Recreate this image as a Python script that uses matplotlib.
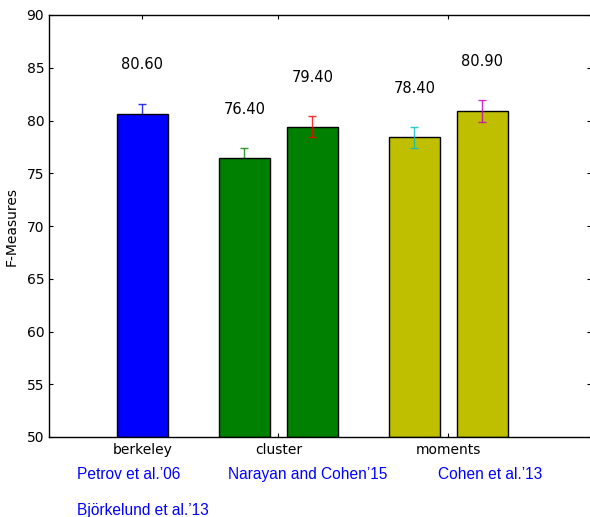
import matplotlib
matplotlib.use("Agg")
import matplotlib.pyplot as plt

categories = ["berkeley", "cluster", "moments"]
bar_groups = [0, 1, 1, 2, 2]
values = [80.60, 76.40, 79.40, 78.40, 80.90]
errors = [1.0, 1.0, 1.0, 1.0, 1.0]
bar_colors = ["#0000ff", "#008000", "#008000", "#bfbf00", "#bfbf00"]
err_colors = ["#0000ff", "#008000", "#ff0000", "#00bfbf", "#bf00bf"]
citations = ["Petrov et al.\u201906", "Narayan and Cohen\u201915", "Cohen et al.\u201913", "Bj\u00f6rkelund et al.\u201913"]
yticks = [50, 55, 60, 65, 70, 75, 80, 85, 90]

group_centers = [0.55, 1.35, 2.35]
offsets = [0.0, -0.2, 0.2, -0.2, 0.2]
width = 0.3

fig = plt.figure(figsize=(5.90, 5.17), dpi=100)
ax = fig.add_axes([49/590, 80/517, 542/590, 422/517])

xs = [group_centers[g] + o for g, o in zip(bar_groups, offsets)]
ax.bar(xs, [v - 50 for v in values], width=width, bottom=50, color=bar_colors,
       edgecolor="black", linewidth=1, zorder=2)
for i, (x, v, e) in enumerate(zip(xs, values, errors)):
    z = 1 if i < 2 else 3
    ax.errorbar(x, v, yerr=e, fmt="none", ecolor=err_colors[i], elinewidth=1,
                capsize=3, capthick=1, alpha=0.8, zorder=z)
    ax.text(x, v + 4.25, f"{v:.2f}", ha="center", va="baseline", fontsize=10.5, color="black")

ax.set_xlim(0, 542/170)
ax.set_ylim(50, 90)
ax.set_yticks(yticks)
ax.set_xticks(group_centers)
ax.set_xticklabels(categories)
ax.tick_params(direction="in", length=3, top=True, right=True, labelsize=10)
ax.tick_params(axis="x", pad=4.5)
ax.tick_params(axis="y", pad=3.5)
ax.set_ylabel("F-Measures", fontsize=10, labelpad=5.5)
for s in ax.spines.values():
    s.set_linewidth(1)

cit_pos = [(77, 479), (228, 479), (438, 479), (77, 515)]
for txt, (px, py) in zip(citations, cit_pos):
    fig.text(px/590, 1 - py/517, txt, ha="left", va="baseline", color="#0000ff",
             fontsize=11.2, family="Liberation Sans")

fig.savefig("out.png", dpi=100)
